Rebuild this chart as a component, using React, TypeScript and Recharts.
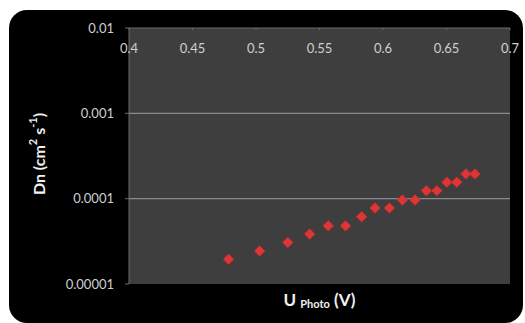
import React from "react";
import { ScatterChart, Scatter, XAxis, YAxis, CartesianGrid, Label } from "recharts";

const uPhoto = [0.4784, 0.5029, 0.525, 0.5423, 0.5569, 0.5705, 0.5832, 0.5937, 0.605, 0.6153, 0.6252, 0.6342, 0.6424, 0.6503, 0.6581, 0.6653, 0.6724];
const dn = [1.95e-5, 2.44e-5, 3.06e-5, 3.85e-5, 4.81e-5, 4.81e-5, 6.14e-5, 7.78e-5, 7.78e-5, 9.66e-5, 9.66e-5, 1.24e-4, 1.24e-4, 1.56e-4, 1.56e-4, 1.95e-4, 1.95e-4];

const xTicks = [0.4, 0.45, 0.5, 0.55, 0.6, 0.65, 0.7];
const xTickLabels = ["0.4", "0.45", "0.5", "0.55", "0.6", "0.65", "0.7"];
const yTicks = [1e-5, 1e-4, 1e-3, 1e-2];
const yTickLabels = ["0.00001", "0.0001", "0.001", "0.01"];
const gridValues = [1e-4, 1e-3];

const data = uPhoto.map((u, i) => ({ u, dn: dn[i] }));

const FONT = "Lato, 'Open Sans', sans-serif";
const TICK_COLOR = "#cfcfcf";

const YLabel = (props: any) => {
  const vb = props.viewBox || {};
  const cx = 38;
  const cy = vb.y + vb.height / 2 - 2;
  return (
    <text
      x={cx}
      y={cy}
      transform={`rotate(-90, ${cx}, ${cy})`}
      textAnchor="middle"
      dominantBaseline="central"
      fill="#f0f0f0"
      fontFamily={FONT}
      fontWeight="bold"
      fontSize={16}
    >
      <tspan>Dn (cm</tspan>
      <tspan fontSize={11} dy={-6}>2</tspan>
      <tspan dy={6}> s</tspan>
      <tspan fontSize={11} dy={-6}>-1</tspan>
      <tspan dy={6}>)</tspan>
    </text>
  );
};

const XLabel = (props: any) => {
  const vb = props.viewBox || {};
  const cx = vb.x + vb.width / 2;
  const cy = 299;
  return (
    <text
      x={cx}
      y={cy}
      textAnchor="middle"
      dominantBaseline="central"
      fill="#f0f0f0"
      fontFamily={FONT}
      fontWeight="bold"
      fontSize={17}
    >
      <tspan>U </tspan>
      <tspan fontSize={11} dy={4}>Photo</tspan>
      <tspan dy={-4}> (V)</tspan>
    </text>
  );
};

const DiamondShape = (props: any) => {
  const { cx, cy } = props;
  if (cx == null || cy == null) return null;
  const w = 5.5;
  const h = 5.5;
  return (
    <path
      d={`M${cx},${cy - h}L${cx + w},${cy}L${cx},${cy + h}L${cx - w},${cy}Z`}
      fill="#dc3636"
      stroke="#b52222"
      strokeWidth={0.6}
    />
  );
};

export default function App() {
  return (
    <div style={{ position: "absolute", left: 0, top: 0, width: 525, height: 323, background: "#ffffff", overflow: "hidden" }}>
      <div style={{ position: "absolute", left: 9, top: 10, width: 514, height: 313, background: "#000000", borderRadius: 18 }} />
      <div style={{ position: "absolute", left: 0, top: 0 }}>
        <ScatterChart width={525} height={323} margin={{ top: 28, right: 15, bottom: 39, left: 0 }}>
          <CartesianGrid
            fill="#3e3e3e"
            vertical={false}
            horizontalValues={gridValues}
            stroke="#8a8a8a"
            strokeWidth={1.2}
          />
          <XAxis
            type="number"
            dataKey="u"
            orientation="top"
            mirror
            domain={[0.4, 0.7]}
            ticks={xTicks}
            tickFormatter={(v: number) => xTickLabels[xTicks.indexOf(v)] ?? String(v)}
            allowDataOverflow
            axisLine={{ stroke: "#6a6a6a" }}
            tickLine={{ stroke: "#6a6a6a" }}
            tickSize={2}
            tickMargin={14}
            tick={{ fill: TICK_COLOR, fontSize: 13, fontFamily: FONT }}
            interval={0}
          >
            <Label content={<XLabel />} />
          </XAxis>
          <YAxis
            type="number"
            dataKey="dn"
            scale="log"
            domain={[1e-5, 1e-2]}
            ticks={yTicks}
            tickFormatter={(v: number) => {
              const i = yTicks.findIndex((t) => Math.abs(t - v) / t < 1e-6);
              return i >= 0 ? yTickLabels[i] : String(v);
            }}
            allowDataOverflow
            width={129}
            axisLine={{ stroke: "#6a6a6a" }}
            tickLine={{ stroke: "#6a6a6a" }}
            tickSize={4}
            tickMargin={11}
            tick={{ fill: TICK_COLOR, fontSize: 13, fontFamily: FONT }}
            interval={0}
          >
            <Label content={<YLabel />} />
          </YAxis>
          <Scatter
            data={data}
            shape={<DiamondShape />}
            fill="#dc3636"
            isAnimationActive={false}
          />
        </ScatterChart>
      </div>
    </div>
  );
}
